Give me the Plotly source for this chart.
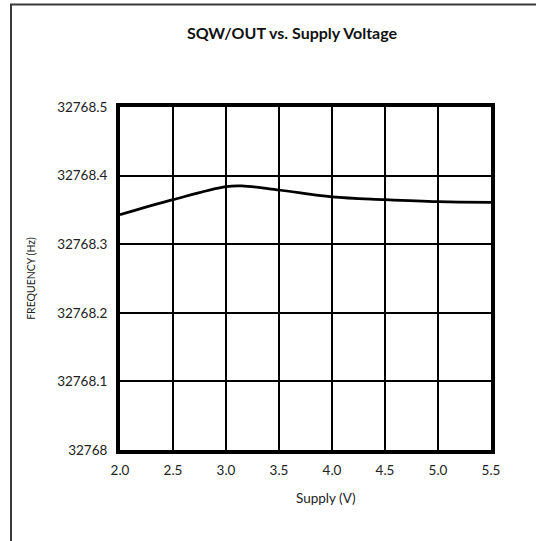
import plotly.graph_objects as go

supply_v = [2.0, 2.5, 3.0, 3.15, 3.5, 4.0, 4.5, 5.0, 5.5]
frequency_hz = [32768.343, 32768.365, 32768.384, 32768.385, 32768.379, 32768.369, 32768.365, 32768.362, 32768.361]

x_ticks = [2.0, 2.5, 3.0, 3.5, 4.0, 4.5, 5.0, 5.5]
x_tick_text = ["2.0", "2.5", "3.0", "3.5", "4.0", "4.5", "5.0", "5.5"]
y_ticks = [32768.0, 32768.1, 32768.2, 32768.3, 32768.4, 32768.5]
y_tick_text = ["32768", "32768.1", "32768.2", "32768.3", "32768.4", "32768.5"]

W, H = 536, 541
L, R, T, B = 120, 45, 107, 91
pw, ph = W - L - R, H - T - B

def px_x(p):
    return (p - L) / pw

def px_y(p):
    return (H - B - p) / ph

FONT = "Lato, 'Open Sans', sans-serif"

fig = go.Figure()
fig.add_trace(go.Scatter(
    x=supply_v, y=frequency_hz, mode="lines",
    line=dict(color="black", width=2.7, shape="spline", smoothing=1.0),
    showlegend=False, hoverinfo="skip",
))

fig.update_layout(
    width=W, height=H,
    margin=dict(l=L, r=R, t=T, b=B),
    paper_bgcolor="white", plot_bgcolor="white",
    font=dict(family=FONT, size=13, color="#222"),
    title=dict(text="<b>SQW/OUT vs. Supply Voltage</b>", x=292 / W, xanchor="center",
               y=1 - 33 / H, yanchor="middle", font=dict(size=16, color="#111")),
    xaxis=dict(
        range=[2.0, 5.5], tickvals=x_ticks, ticktext=x_tick_text,
        showgrid=True, gridcolor="black", gridwidth=2,
        showline=True, linecolor="black", linewidth=4, mirror=True,
        ticks="", zeroline=False, tickfont=dict(size=13.5), ticklabelstandoff=5,
    ),
    yaxis=dict(
        range=[32768.0, 32768.5], tickvals=y_ticks, ticktext=y_tick_text,
        showgrid=True, gridcolor="black", gridwidth=2,
        showline=True, linecolor="black", linewidth=4, mirror=True,
        ticks="", zeroline=False, tickfont=dict(size=13.5), ticklabelstandoff=6,
        title=dict(text="FREQUENCY (Hz)", font=dict(size=10.5), standoff=20),
    ),
)

fig.add_annotation(text="Supply (V)", xref="paper", yref="paper",
                   x=px_x(326), y=px_y(498), xanchor="center", yanchor="middle",
                   showarrow=False, font=dict(size=13.5, color="#222"))

# outer frame (left and top edges)
fig.add_shape(type="line", xref="paper", yref="paper",
              x0=px_x(11), x1=px_x(11), y0=px_y(H), y1=px_y(4.5),
              line=dict(color="#3a3a3a", width=2))
fig.add_shape(type="line", xref="paper", yref="paper",
              x0=px_x(10), x1=px_x(W), y0=px_y(4.5), y1=px_y(4.5),
              line=dict(color="#3a3a3a", width=2))

fig.write_html("out.html", config={"displayModeBar": False},
               post_script="document.body.style.margin='0';document.body.style.overflow='hidden';")
